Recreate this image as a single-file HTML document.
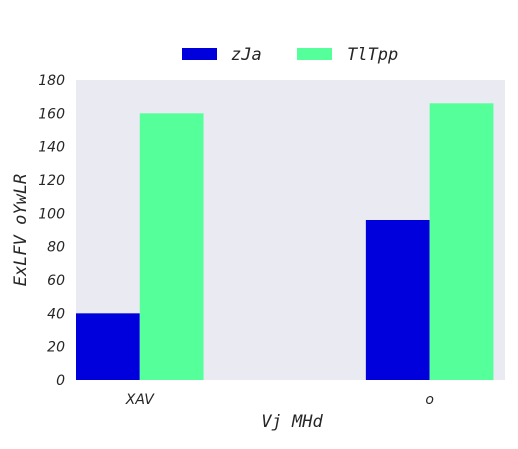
<!DOCTYPE html>
<html><head><meta charset="utf-8"><style>
body{margin:0;background:#fff;width:518px;height:444px;overflow:hidden}
text{font-family:"DejaVu Sans Mono","Liberation Mono",monospace;font-style:italic}
.tk{font-family:"DejaVu Sans","Liberation Sans",sans-serif;font-size:14px;fill:#262626}
</style></head><body>
<svg id="c" width="518" height="444">
<rect x="76" y="80" width="429" height="300" fill="#eaeaf2"/>
<g id="bars"></g>
<g id="ticks"></g>
<rect x="182" y="48" width="35" height="12" fill="#0000dd"/>
<text x="231" y="60" font-size="17" fill="#262626">zJa</text>
<rect x="297" y="48" width="35" height="12" fill="#55ff99"/>
<text x="347" y="60" font-size="17" fill="#262626">TlTpp</text>
<text x="292" y="427" font-size="17" text-anchor="middle" fill="#262626">Vj MHd</text>
<text transform="translate(26,230) rotate(-90)" font-size="17" text-anchor="middle" fill="#262626">ExLFV oYwLR</text>
</svg>
<script>
const categories=["XAV","o"];
const seriesZJa=[40,96];
const seriesTlTpp=[160,166];
const yTicks=[0,20,40,60,80,100,120,140,160,180];
const NS="http://www.w3.org/2000/svg";
const x0=76,x1=505,y0=380,y1=80,xmin=-0.22,xmax=1.26,ymax=180,bw=0.22;
const xs=v=>x0+(v-xmin)/(xmax-xmin)*(x1-x0);
const ys=v=>y0-v/ymax*(y0-y1);
const bars=document.getElementById('bars'),ticks=document.getElementById('ticks');
function bar(i,off,v,col,nm){const r=document.createElementNS(NS,'rect');
const a=xs(i+off),b=xs(i+off+bw);r.setAttribute('x',a);r.setAttribute('width',b-a);
r.setAttribute('y',ys(v));r.setAttribute('height',ys(0)-ys(v));r.setAttribute('fill',col);


bars.appendChild(r);}
categories.forEach((c,i)=>{bar(i,-bw,seriesZJa[i],'#0000dd','bar-zja-'+c);bar(i,0,seriesTlTpp[i],'#55ff99','bar-tltpp-'+c);
const t=document.createElementNS(NS,'text');t.setAttribute('class','tk');t.setAttribute('x',xs(i));t.setAttribute('y',404);t.setAttribute('text-anchor','middle');t.textContent=c;


ticks.appendChild(t);});
yTicks.forEach(v=>{const t=document.createElementNS(NS,'text');t.setAttribute('class','tk');t.setAttribute('x',65);t.setAttribute('y',ys(v)+5);t.setAttribute('text-anchor','end');t.textContent=v;


ticks.appendChild(t);});
</script>
</body></html>
